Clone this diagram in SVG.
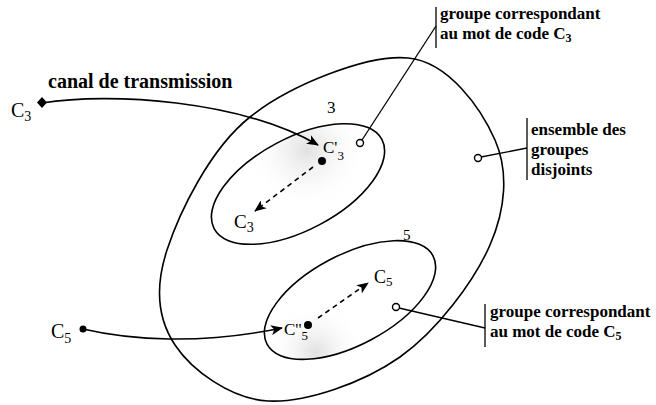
<svg xmlns="http://www.w3.org/2000/svg" width="656" height="405" viewBox="0 0 656 405">
<style>
.ln{fill:none;stroke:#000;stroke-width:1.6}
.th{fill:none;stroke:#000;stroke-width:1.3}
.dash{fill:none;stroke:#000;stroke-width:1.6;stroke-dasharray:5 4}
text{font-family:'Liberation Serif','DejaVu Serif','Times New Roman',serif;fill:#000}
.ann{font-size:17px;font-weight:bold}
.oc{fill:#fff;stroke:#000;stroke-width:1.4}
</style>
<defs>
<marker id="ah" viewBox="0 0 12 10" refX="11" refY="5" markerWidth="12" markerHeight="10" markerUnits="userSpaceOnUse" orient="auto">
<path d="M0,0 L12,5 L0,10 L3,5 Z" fill="#000"/>
</marker>
<radialGradient id="g3" cx="322" cy="158" r="60" gradientUnits="userSpaceOnUse">
<stop offset="0" stop-color="#bbb" stop-opacity="0.45"/>
<stop offset="1" stop-color="#fff" stop-opacity="0"/>
</radialGradient>
<radialGradient id="g5" cx="295" cy="330" r="50" gradientUnits="userSpaceOnUse">
<stop offset="0" stop-color="#bbb" stop-opacity="0.45"/>
<stop offset="1" stop-color="#fff" stop-opacity="0"/>
</radialGradient>
</defs>

<g id="ensemble">
<path class="ln" d="M408,58 C448.8,61.8 481.3,108.8 495,140 C508.7,171.2 505.8,208.8 490,245 C474.2,281.2 437,331 400,357 C363,383 305.5,403 268,401 C230.5,399 191.8,370.2 175,345 C158.2,319.8 154.5,288 167,250 C179.5,212 209.8,149 250,117 C290.2,85 367.2,54.2 408,58 Z"/>
</g>

<g id="groupe3">
<ellipse cx="298" cy="184" rx="95" ry="46" transform="rotate(-28 298 184)" fill="url(#g3)" stroke="#000" stroke-width="1.6"/>
<text x="327" y="113" font-size="17" font-family="Liberation Serif, serif">3</text>
</g>

<g id="groupe5">
<ellipse cx="350" cy="300" rx="94" ry="45" transform="rotate(-28 350 300)" fill="url(#g5)" stroke="#000" stroke-width="1.6"/>
<text x="403" y="240" font-size="15" font-family="Liberation Serif, serif">5</text>
</g>

<g id="c3">
<path d="M42,97 L47,102.5 L42,108 L37,102.5 Z" fill="#000"/>
<text x="11" y="117" font-size="20" font-family="Liberation Serif, serif">C<tspan font-size="14" dy="4">3</tspan></text>
</g>

<g id="c5">
<circle cx="83" cy="329" r="3.5" fill="#000"/>
<text x="51" y="338" font-size="20" font-family="Liberation Serif, serif">C<tspan font-size="14" dy="5">5</tspan></text>
</g>

<g id="c3prime">
<circle cx="322" cy="161" r="4" fill="#000"/>
<text x="323" y="153" font-size="17" font-family="Liberation Serif, serif">C'<tspan font-size="13" dy="7">3</tspan></text>
</g>

<g id="c3recu">
<text x="234" y="228" font-size="19" font-family="Liberation Serif, serif">C<tspan font-size="14" dy="4">3</tspan></text>
</g>

<g id="c5prime">
<circle cx="308" cy="325" r="4" fill="#000"/>
<text x="284" y="335" font-size="17" font-family="Liberation Serif, serif">C''<tspan font-size="13" dy="5">5</tspan></text>
</g>

<g id="c5recu">
<text x="374" y="283" font-size="18" font-family="Liberation Serif, serif">C<tspan font-size="13" dy="3">5</tspan></text>
</g>

<g id="canal">
<text x="48" y="88" font-size="20" font-weight="bold" font-family="Liberation Serif, serif">canal de transmission</text>
</g>

<g id="label-groupe3">
<line class="th" x1="436" y1="7" x2="436" y2="48"/>
<text class="ann" x="440" y="19" font-family="Liberation Serif, serif">groupe correspondant</text>
<text class="ann" x="440" y="39" font-family="Liberation Serif, serif">au mot de code C<tspan font-size="12" dy="3">3</tspan></text>
</g>

<g id="label-ensemble">
<line class="th" x1="527" y1="118" x2="527" y2="180"/>
<text class="ann" x="531" y="135" font-family="Liberation Serif, serif">ensemble des</text>
<text class="ann" x="531" y="155" font-family="Liberation Serif, serif">groupes</text>
<text class="ann" x="531" y="175" font-family="Liberation Serif, serif">disjoints</text>
</g>

<g id="label-groupe5">
<line class="th" x1="485" y1="304" x2="485" y2="347"/>
<text class="ann" x="490" y="317" font-family="Liberation Serif, serif">groupe correspondant</text>
<text class="ann" x="490" y="337" font-family="Liberation Serif, serif">au mot de code C<tspan font-size="12" dy="3">5</tspan></text>
</g>

<g id="connectors">
<path class="ln" d="M42,103 C110,92 240,100 318,145" marker-end="url(#ah)"/>
<path class="ln" d="M83,329 C130,340 200,345 282,328" marker-end="url(#ah)"/>
<path class="dash" d="M313,167 L255,211" marker-end="url(#ah)"/>
<path class="dash" d="M318,318 L368,283" marker-end="url(#ah)"/>
<line class="th" x1="362" y1="140" x2="436" y2="26"/>
<line class="th" x1="481" y1="157" x2="527" y2="148"/>
<line class="th" x1="399" y1="308" x2="485" y2="328"/>
<circle class="oc" cx="360" cy="143" r="3.5"/>
<circle class="oc" cx="478" cy="158" r="3.5"/>
<circle class="oc" cx="396" cy="307" r="3.5"/>
</g>
</svg>
